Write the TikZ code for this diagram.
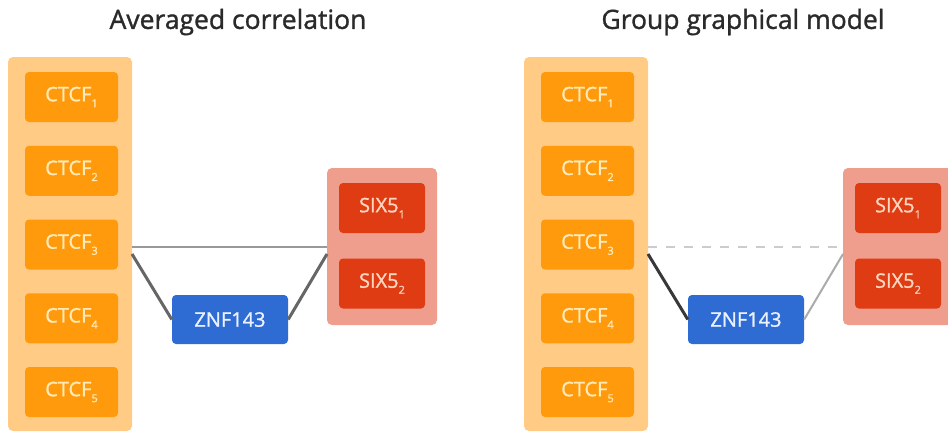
\documentclass[tikz,border=0pt]{standalone}
\usepackage{fontspec}
\setmainfont{Open Sans}
\newfontfamily\medfont[FakeBold=1.2]{Open Sans}
\definecolor{orbg}{HTML}{FFCB85}
\definecolor{orbox}{HTML}{FF9A0C}
\definecolor{ortxt}{HTML}{FFEAB8}
\definecolor{sabg}{HTML}{EF9D8C}
\definecolor{sabox}{HTML}{E03C14}
\definecolor{satxt}{HTML}{FFD6C0}
\definecolor{znbox}{HTML}{2E6BD3}
\definecolor{zntxt}{HTML}{EAF1FF}
\definecolor{ttl}{HTML}{2A2A2A}
\newcommand{\sbs}[1]{{\fontsize{11}{11}\selectfont\raisebox{-6pt}{#1}}}
\begin{document}
\begin{tikzpicture}[x=1pt,y=-1pt,
  groupbg/.style={rounded corners=5pt,inner sep=0pt},
  ctcfbg/.style={groupbg,fill=orbg,minimum width=124pt,minimum height=374pt},
  sixbg/.style={groupbg,fill=sabg,minimum width=110pt,minimum height=157pt},
  gene/.style={rounded corners=4pt,inner sep=0pt,font=\medfont\fontsize{20}{20}\selectfont},
  ctcf/.style={gene,fill=orbox,text=ortxt,minimum width=93pt,minimum height=50pt},
  six/.style={gene,fill=sabox,text=satxt,minimum width=86pt,minimum height=50pt},
  znf/.style={gene,fill=znbox,text=zntxt,minimum width=116pt,minimum height=49pt},
  titletext/.style={text=ttl,font=\medfont\fontsize{26.5}{26.5}\selectfont,inner sep=0pt},
  midline/.style={line width=2pt,draw=black!40},
  diagline/.style={line width=3pt,draw=black!60},
  darkline/.style={line width=3pt,draw=black!78},
  lightline/.style={line width=2pt,draw=black!33},
  dashline/.style={line width=1.6pt,draw=black!20,dash pattern=on 9pt off 9pt}]
\useasboundingbox (0,0) rectangle (948,432);
\clip (0,0) rectangle (948,432);
\fill[white] (0,0) rectangle (948,432);

% ---------- left panel ----------
\node[titletext] (tL) at (238,22) {Averaged correlation};
\node[ctcfbg] (bgL) at (70,244) {};
\foreach \i in {1,...,5}
  \node[ctcf] (cL\i) at (71.5,{97+73.75*(\i-1)}) {CTCF\sbs{\i}};
\node[sixbg] (sbgL) at (382,246.5) {};
\node[six] (sL1) at (382,208) {SIX5\sbs{1}};
\node[six] (sL2) at (382,283.5) {SIX5\sbs{2}};
\node[znf] (zL) at (230,319.5) {ZNF143};
\coordinate (aL) at (132,247);
\coordinate (bL) at (327,247);
\coordinate (dL) at (132,254);
\coordinate (eL) at (327,254);
\draw[midline] (aL) -- (bL);
\draw[diagline] (dL) -- (zL.west);
\draw[diagline] (zL.east) -- (eL);

% ---------- right panel ----------
\node[titletext] (tR) at (743,22) {Group graphical model};
\node[ctcfbg] (bgR) at (586,244) {};
\foreach \i in {1,...,5}
  \node[ctcf] (cR\i) at (587.5,{97+73.75*(\i-1)}) {CTCF\sbs{\i}};
\node[sixbg] (sbgR) at (898,246.5) {};
\node[six] (sR1) at (898,208) {SIX5\sbs{1}};
\node[six] (sR2) at (898,283.5) {SIX5\sbs{2}};
\node[znf] (zR) at (746,319.5) {ZNF143};
\coordinate (aR) at (648,247);
\coordinate (bR) at (843,247);
\coordinate (dR) at (648,254);
\coordinate (eR) at (843,254);
\draw[dashline] (aR) -- (bR);
\draw[darkline] (dR) -- (zR.west);
\draw[lightline] (zR.east) -- (eR);
\end{tikzpicture}
\end{document}
